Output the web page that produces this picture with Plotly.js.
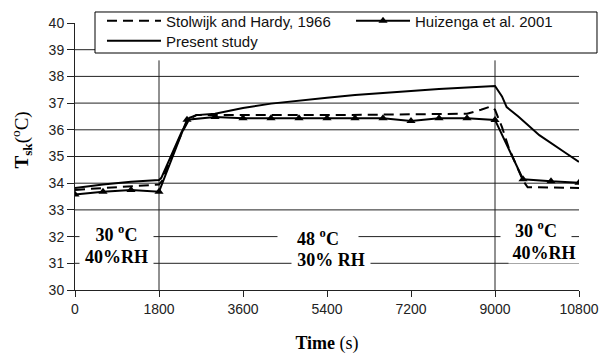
<!DOCTYPE html>
<html>
<head>
<meta charset="utf-8">
<script src="https://cdn.plot.ly/plotly-3.0.1.min.js"></script>
<style>html,body{margin:0;padding:0;background:#fff;}#chart{width:602px;height:361px;}</style>
</head>
<body>
<div id="chart"></div>
<script>
// ---- data ----
const timeStolwijk = [0, 900, 1800, 1870, 2030, 2280, 2450, 2600, 3600, 5400, 7200, 8400, 8700, 8900, 9000, 9150, 9300, 9450, 9600, 9700, 10800];
const tempStolwijk = [33.75, 33.85, 33.95, 34.1, 34.85, 35.85, 36.4, 36.55, 36.55, 36.55, 36.58, 36.6, 36.75, 36.87, 36.75, 36.1, 35.3, 34.7, 34.1, 33.85, 33.82];

const timeHuizenga = [0, 600, 1200, 1800, 2400, 3000, 3600, 4200, 4800, 5400, 6000, 6600, 7200, 7800, 8400, 9000, 9600, 10200, 10800];
const tempHuizenga = [33.58, 33.68, 33.75, 33.68, 36.38, 36.48, 36.43, 36.43, 36.43, 36.43, 36.43, 36.43, 36.33, 36.43, 36.43, 36.37, 34.15, 34.07, 34.02];

const timePresent = [0, 600, 1200, 1800, 1850, 2030, 2280, 2450, 2600, 3000, 3600, 4200, 4800, 5400, 6000, 6600, 7200, 7800, 8400, 9000, 9150, 9250, 9500, 9950, 10500, 10800];
const tempPresent = [33.82, 33.95, 34.05, 34.12, 34.2, 34.9, 35.9, 36.45, 36.55, 36.6, 36.82, 36.98, 37.1, 37.2, 37.3, 37.38, 37.46, 37.53, 37.58, 37.64, 37.25, 36.85, 36.5, 35.8, 35.15, 34.8];

const xTicks = [0, 1800, 3600, 5400, 7200, 9000, 10800];
const yTicks = [30, 31, 32, 33, 34, 35, 36, 37, 38, 39, 40];
const gridValues = [31, 32, 33, 34, 35, 36, 37, 38, 39];
const phaseBoundaries = [1800, 9000];
const phaseTop = 38.6;

const labelTexts = ['30 <sup>o</sup>C', '40%RH', '48 <sup>o</sup>C', '30% RH', '30 <sup>o</sup>C', '40%RH'];
const labelTimes = [890, 890, 5200, 5480, 9870, 10060];
const labelTemps = [32.13, 31.24, 31.95, 31.12, 32.25, 31.39];
const labelWidths = [73, 73, 80, 78, 70, 70];

// ---- traces ----
const traces = [
  {x: timeStolwijk, y: tempStolwijk, name: 'Stolwijk and Hardy, 1966', mode: 'lines', legend: 'legend',
   line: {color: '#000', width: 2, dash: '10px,6px'}},
  {x: timeHuizenga, y: tempHuizenga, name: 'Huizenga et al. 2001', mode: 'lines+markers', legend: 'legend2',
   line: {color: '#000', width: 2}, marker: {symbol: 'triangle-up', size: 8, color: '#000'}},
  {x: timePresent, y: tempPresent, name: 'Present study', mode: 'lines', legend: 'legend3',
   line: {color: '#000', width: 2}}
];

const shapes = [];
gridValues.forEach(v => shapes.push({type: 'line', xref: 'paper', x0: 0, x1: 1, yref: 'y', y0: v, y1: v,
  line: {color: '#222', width: 1}, layer: 'below'}));
phaseBoundaries.forEach(t => shapes.push({type: 'line', xref: 'x', x0: t, x1: t, yref: 'y', y0: 30, y1: phaseTop,
  line: {color: '#222', width: 1}, layer: 'below'}));
// legend frame
shapes.push({type: 'rect', xref: 'paper', yref: 'paper', x0: 0.0397, x1: 1.0357, y0: 0.8876, y1: 1.0412,
  fillcolor: '#fff', line: {color: '#000', width: 1}, layer: 'above'});

const annotations = labelTexts.map((txt, i) => ({
  x: labelTimes[i], y: labelTemps[i], xref: 'x', yref: 'y', text: '<b>' + txt + '</b>', showarrow: false,
  bgcolor: '#fff', width: labelWidths[i], borderpad: 0,
  font: {family: 'Liberation Serif, Times New Roman, serif', size: 18, color: '#000'}
}));
annotations.push({
  xref: 'paper', yref: 'paper', x: -0.107, y: 0.56, xanchor: 'center', yanchor: 'middle',
  textangle: -90, showarrow: false,
  text: '<b>T<sub>sk</sub></b>(<sup>o</sup>C)',
  font: {family: 'Liberation Serif, Times New Roman, serif', size: 19, color: '#000'}
});

const legendFont = {family: 'Liberation Sans, Arial, sans-serif', size: 15, color: '#111'};
const legendBase = {orientation: 'v', xanchor: 'left', yanchor: 'top', xref: 'container', yref: 'container',
  bgcolor: 'rgba(0,0,0,0)', borderwidth: 0, itemwidth: 54, font: legendFont};
const layout = {
  width: 602, height: 361,
  margin: {l: 75, r: 23, t: 23, b: 71, autoexpand: false},
  paper_bgcolor: '#fff', plot_bgcolor: '#fff',
  showlegend: true,
  legend: Object.assign({}, legendBase, {x: 0.1694, y: 0.9875}),
  legend2: Object.assign({}, legendBase, {x: 0.5831, y: 0.9875}),
  legend3: Object.assign({}, legendBase, {x: 0.1694, y: 0.9321}),
  xaxis: {
    range: [0, 10800], tickvals: xTicks, ticktext: xTicks.map(String),
    showgrid: false, zeroline: false, showline: true, linecolor: '#222', linewidth: 1,
    ticks: 'outside', ticklen: 6, tickcolor: '#222',
    tickfont: {family: 'Liberation Sans, Arial, sans-serif', size: 14, color: '#222'},
    title: {text: '<b>Time</b> (s)', standoff: 20,
      font: {family: 'Liberation Serif, Times New Roman, serif', size: 18, color: '#000'}}
  },
  yaxis: {
    range: [30, 40], tickvals: yTicks, ticktext: yTicks.map(String),
    showgrid: false, zeroline: false, showline: true, linecolor: '#222', linewidth: 1,
    ticks: 'outside', ticklen: 7, tickcolor: '#222',
    tickfont: {family: 'Liberation Sans, Arial, sans-serif', size: 14, color: '#222'}
  },
  shapes: shapes,
  annotations: annotations
};

Plotly.newPlot('chart', traces, layout, {displayModeBar: false, staticPlot: true});
</script>
</body>
</html>
